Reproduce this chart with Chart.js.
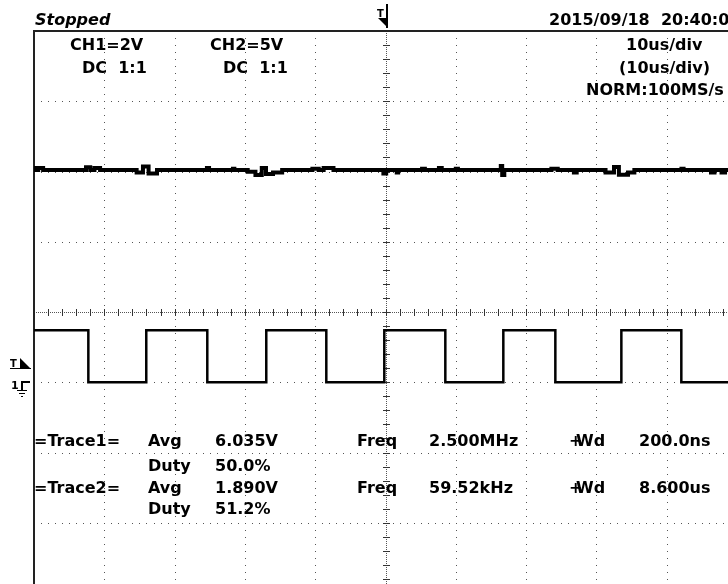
<!DOCTYPE html>
<html>
<head>
<meta charset="utf-8">
<title>Scope capture</title>
<script src="https://cdn.jsdelivr.net/npm/chart.js@4.4.1/dist/chart.umd.min.js"></script>
<style>
  html, body { margin: 0; padding: 0; background: #fff; overflow: hidden; }
  #wrap { position: absolute; left: 0; top: 0; width: 760px; height: 620px; }
</style>
</head>
<body>
<div id="wrap"><canvas id="scope" width="760" height="620"></canvas></div>
<script>
// time base: 10 divisions of 10 us, trigger point in the middle
const timeDivs = [0, 10, 20, 30, 40, 50, 60, 70, 80, 90, 100];
const voltDivs = [-4, -3, -2, -1, 0, 1, 2, 3, 4];

// CH1: 2 V/div, ground marker on -1 div
const ch1Scale = 2;
const ch1Ground = -1;
const ch1Time = [0, 0.2, 0.6, 1.3, 1.6, 7.4, 8.0, 8.6, 9.4, 14.6, 15.5, 16.3, 17.5,
  24.6, 24.9, 28.3, 28.5, 30.4, 31.5, 32.4, 33.0, 34.0, 35.3, 39.6, 40.5, 41.2, 42.6,
  49.7, 50.1, 51.6, 51.8, 55.2, 55.6, 57.6, 58.0, 60.0, 60.3, 66.4, 66.6, 66.9,
  73.6, 74.5, 76.8, 77.2, 81.3, 82.5, 83.2, 84.5, 85.4, 92.1, 92.4, 96.3, 96.8,
  97.8, 98.3, 100];
const ch1Volts = [6.1, 6.04, 6.1, 6.04, 6.04, 6.12, 6.04, 6.1, 6.04, 5.97, 6.14, 5.94, 6.04,
  6.1, 6.04, 6.08, 6.04, 5.99, 5.9, 6.1, 5.93, 5.97, 6.04, 6.08, 6.04, 6.1, 6.04,
  5.94, 6.04, 5.97, 6.04, 6.08, 6.04, 6.1, 6.04, 6.08, 6.04, 6.16, 5.9, 6.04,
  6.08, 6.04, 5.97, 6.04, 5.97, 6.13, 5.91, 5.97, 6.04, 6.08, 6.04, 5.97, 6.04,
  5.97, 6.04, 6.04];

// CH2: 5 V/div, same ground
const ch2Scale = 5;
const ch2Ground = -1;
const ch2Time = [0, 7.73, 15.97, 24.65, 33.04, 41.58, 49.83, 58.51, 66.76, 74.16, 83.55, 92.08, 100];
const ch2Volts = [3.7, 0, 3.7, 0, 3.7, 0, 3.7, 0, 3.7, 0, 3.7, 0, 0];
const trigLevel = 1.0;

// header and measurement readout
const headerLabels = ["CH1=2V", "DC  1:1", "CH2=5V", "DC  1:1", "10us/div", "(10us/div)", "NORM:100MS/s"];
const stampLabel = "2015/09/18  20:40:02";
const traceNames = ["=Trace1=", "=Trace2="];
const avgValues = ["6.035V", "1.890V"];
const dutyValues = ["50.0%", "51.2%"];
const freqValues = ["2.500MHz", "59.52kHz"];
const widthValues = ["200.0ns", "8.600us"];

function toDiv(volts, scale, ground) {
  return volts.map((v) => v / scale + ground);
}

function points(times, divs) {
  return times.map((t, i) => ({ x: t, y: divs[i] }));
}

// graticule, frame and markers
const scopeFrame = {
  id: "scopeFrame",
  beforeDatasetsDraw(chart) {
    const { ctx, chartArea: a, scales: { x, y } } = chart;
    const cx = Math.round(x.getPixelForValue(50));
    const cy = Math.round(y.getPixelForValue(0));
    ctx.save();
    ctx.fillStyle = "#555";

    // dotted division lines, 10 dots per division
    timeDivs.forEach((t) => {
      if (t === 0 || t === 50 || t === 100) return;
      const px = Math.round(x.getPixelForValue(t));
      for (let k = 0; k <= 80; k++) {
        ctx.fillRect(px, Math.round(y.getPixelForValue(-4 + k * 0.1)), 1, 1);
      }
    });
    voltDivs.forEach((v) => {
      if (v === 0 || v === 4 || v === -4) return;
      const py = Math.round(y.getPixelForValue(v));
      for (let k = 0; k <= 100; k++) {
        ctx.fillRect(Math.round(x.getPixelForValue(k)), py, 1, 1);
      }
    });

    // centre axes with minor ticks
    for (let py = a.top; py < a.bottom; py += 2) ctx.fillRect(cx, py, 1, 1);
    for (let px = a.left; px < a.right; px += 2) ctx.fillRect(px, cy, 1, 1);
    ctx.fillStyle = "#333";
    for (let k = 0; k <= 40; k++) {
      const py = Math.round(y.getPixelForValue(-4 + k * 0.2));
      ctx.fillRect(cx - 3, py, 7, 1);
    }
    for (let k = 0; k <= 50; k++) {
      const px = Math.round(x.getPixelForValue(k * 2));
      ctx.fillRect(px, cy - 3, 1, 7);
    }

    // frame
    ctx.fillStyle = "#222";
    ctx.fillRect(a.left - 1, a.top - 1, 2, a.bottom - a.top + 1);
    ctx.fillRect(a.left - 1, a.top - 1, a.right - a.left + 1, 2);

    // trigger position marker above the frame
    ctx.fillStyle = "#000";
    ctx.fillRect(cx, 4, 2, 24);
    ctx.font = "bold 10px 'DejaVu Sans'";
    ctx.fillText("T", cx - 9, 17);
    ctx.beginPath();
    ctx.moveTo(cx - 8, 18);
    ctx.lineTo(cx + 1, 18);
    ctx.lineTo(cx + 1, 27);
    ctx.closePath();
    ctx.fill();

    // trigger level marker on the left
    const ty = Math.round(y.getPixelForValue(trigLevel / ch2Scale + ch2Ground));
    ctx.fillText("T", 10, ty - 1);
    ctx.fillRect(10, ty, 21, 1);
    ctx.beginPath();
    ctx.moveTo(20, ty - 10);
    ctx.lineTo(30, ty);
    ctx.lineTo(20, ty);
    ctx.closePath();
    ctx.fill();

    // CH1 ground marker
    const gy = Math.round(y.getPixelForValue(ch1Ground));
    ctx.font = "bold 11px 'DejaVu Sans'";
    ctx.fillText("1", 11, gy + 7);
    ctx.fillRect(21, gy - 1, 9, 2);
    ctx.fillRect(21, gy - 1, 2, 9);
    ctx.fillRect(17, gy + 8, 10, 1);
    ctx.fillRect(19, gy + 11, 6, 1);
    ctx.fillRect(21, gy + 14, 2, 1);
    ctx.restore();
  },
  afterDraw(chart) {
    const { ctx } = chart;
    ctx.save();
    ctx.fillStyle = "#000";
    ctx.textBaseline = "alphabetic";

    ctx.font = "italic bold 16px 'DejaVu Sans'";
    ctx.fillText("Stopped", 35, 25);

    ctx.font = "bold 16px 'DejaVu Sans'";
    ctx.fillText(stampLabel, 549, 25);

    ctx.fillText(headerLabels[0], 70, 50);
    ctx.fillText(headerLabels[1], 82, 73);
    ctx.fillText(headerLabels[2], 210, 50);
    ctx.fillText(headerLabels[3], 223, 73);
    ctx.fillText(headerLabels[4], 626, 50);
    ctx.fillText(headerLabels[5], 619, 73);
    ctx.fillText(headerLabels[6], 586, 95);

    const rows = [446, 493];
    const dutyRows = [471, 514];
    rows.forEach((by, i) => {
      ctx.fillText(traceNames[i], 34, by);
      ctx.fillText("Avg", 148, by);
      ctx.fillText(avgValues[i], 215, by);
      ctx.fillText("Freq", 357, by);
      ctx.fillText(freqValues[i], 429, by);
      ctx.fillText("+", 569, by);
      ctx.fillText("Wd", 576, by);
      ctx.fillText(widthValues[i], 639, by);
      ctx.fillText("Duty", 148, dutyRows[i]);
      ctx.fillText(dutyValues[i], 215, dutyRows[i]);
    });
    ctx.restore();
  },
};

const chart = new Chart(document.getElementById("scope"), {
  type: "line",
  data: {
    datasets: [
      {
        label: "CH1",
        data: points(ch1Time, toDiv(ch1Volts, ch1Scale, ch1Ground)),
        borderColor: "#000",
        borderWidth: 4,
        stepped: true,
        pointRadius: 0,
      },
      {
        label: "CH2",
        data: points(ch2Time, toDiv(ch2Volts, ch2Scale, ch2Ground)),
        borderColor: "#000",
        borderWidth: 2.5,
        stepped: true,
        pointRadius: 0,
      },
    ],
  },
  options: {
    responsive: false,
    devicePixelRatio: 1,
    animation: false,
    events: [],
    layout: { padding: { left: 34, top: 31, right: 23, bottom: 27 } },
    plugins: { legend: { display: false }, tooltip: { enabled: false } },
    scales: {
      x: { type: "linear", min: 0, max: 100, display: false },
      y: { type: "linear", min: -4, max: 4, display: false },
    },
  },
  plugins: [scopeFrame],
});
</script>
</body>
</html>
